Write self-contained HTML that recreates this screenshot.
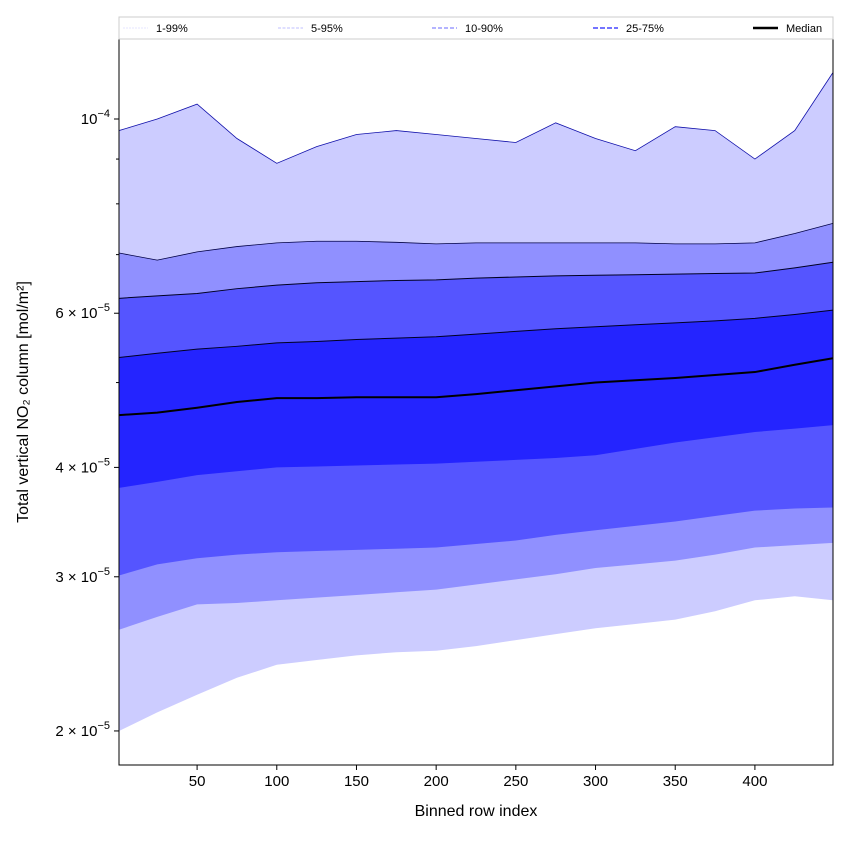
<!DOCTYPE html>
<html><head><meta charset="utf-8"><style>
body{margin:0;background:#fff;font-family:"Liberation Sans","DejaVu Sans",sans-serif}
</style></head><body>
<svg id="c" width="850" height="850" xmlns="http://www.w3.org/2000/svg"></svg>
<script>
const rows=[1,25,50,75,100,125,150,175,200,225,250,275,300,325,350,375,400,425,449];
const p99=[9.7,10.0,10.4,9.5,8.9,9.3,9.6,9.7,9.6,9.5,9.4,9.9,9.5,9.2,9.8,9.7,9.0,9.7,11.3];
const p01=[2.0,2.1,2.2,2.3,2.38,2.41,2.44,2.46,2.47,2.5,2.54,2.58,2.62,2.65,2.68,2.74,2.82,2.85,2.82];
const p95=[7.03,6.9,7.05,7.15,7.22,7.25,7.25,7.23,7.2,7.22,7.22,7.22,7.22,7.22,7.2,7.2,7.22,7.4,7.6];
const p05=[2.61,2.7,2.79,2.8,2.82,2.84,2.86,2.88,2.9,2.94,2.98,3.02,3.07,3.1,3.13,3.18,3.24,3.26,3.28];
const p90=[6.24,6.28,6.32,6.4,6.46,6.5,6.52,6.54,6.55,6.58,6.6,6.62,6.63,6.64,6.65,6.66,6.67,6.76,6.86];
const p10=[3.01,3.1,3.15,3.18,3.2,3.21,3.22,3.23,3.24,3.27,3.3,3.35,3.39,3.43,3.47,3.52,3.57,3.59,3.6];
const p75=[5.34,5.4,5.46,5.5,5.55,5.57,5.6,5.62,5.64,5.68,5.72,5.76,5.79,5.82,5.85,5.88,5.92,5.98,6.05];
const p25=[3.79,3.85,3.92,3.96,4.0,4.01,4.02,4.03,4.04,4.06,4.08,4.1,4.13,4.2,4.27,4.33,4.39,4.43,4.47];
const med=[4.59,4.62,4.68,4.75,4.8,4.8,4.81,4.81,4.81,4.85,4.9,4.95,5.0,5.03,5.06,5.1,5.14,5.24,5.33];
const xTicks=[50,100,150,200,250,300,350,400];
const yTicks=[10,6,4,3,2];
const yTickLabels=["10","6 × 10","4 × 10","3 × 10","2 × 10"];
const yExp=["−4","−5","−5","−5","−5"];
const L=119,R=833,T=39,B=765;
const X=v=>L+(v-1)/(449-1)*(R-L);
const Y=v=>119+875.5*(1-Math.log10(v));
const svg=document.getElementById('c');
const NS='http://www.w3.org/2000/svg';
function mk(tag,attrs,parent){const e=document.createElementNS(NS,tag);for(const k in attrs)e.setAttribute(k,attrs[k]);(parent||svg).appendChild(e);return e;}
const clip=mk('clipPath',{id:'cp'});mk('rect',{x:L,y:T,width:R-L,height:B-T},clip);
const g=mk('g',{'clip-path':'url(#cp)'});
function band(up,lo,fill,name){
 let d='M'+rows.map((r,i)=>X(r)+','+Y(up[i])).join('L');
 d+='L'+rows.slice().reverse().map((r,i)=>X(r)+','+Y(lo[lo.length-1-i])).join('L')+'Z';
 const p=mk('path',{d:d,fill:fill,stroke:'none'},g);
 
 
}
function line(v,stroke,w,name){
 const p=mk('path',{d:'M'+rows.map((r,i)=>X(r)+','+Y(v[i])).join('L'),fill:'none',stroke:stroke,'stroke-width':w},g);
 
 
}
band(p99,p01,'#ccccff','band-1-99');
band(p95,p05,'#9090ff','band-5-95');
band(p90,p10,'#5555ff','band-10-90');
band(p75,p25,'#2424ff','band-25-75');
line(p99,'#1010aa',0.8,'line-p99');
line(p95,'#000044',0.8,'line-p95');
line(p90,'#000022',1,'line-p90');
line(p75,'#000022',1,'line-p75');
line(med,'#000',2,'median-line');
mk('rect',{x:L,y:T,width:R-L,height:B-T,fill:'none',stroke:'#000','stroke-width':1});
xTicks.forEach(t=>{const x=X(t);
 mk('line',{x1:x,x2:x,y1:B,y2:B+5,stroke:'#000'});
 const tx=mk('text',{x:x,y:B+21,'text-anchor':'middle','font-size':15});tx.textContent=t;
 });
yTicks.forEach((t,i)=>{const y=Y(t);
 mk('line',{x1:L-5,x2:L,y1:y,y2:y,stroke:'#000'});
 const tx=mk('text',{x:L-9,y:y+5,'text-anchor':'end','font-size':15});
 tx.textContent=yTickLabels[i];
 const s=mk('tspan',{dy:-7,'font-size':11},tx);s.textContent=yExp[i];
 });
[9,8,7,5].forEach(t=>{const y=Y(t);mk('line',{x1:L-3,x2:L,y1:y,y2:y,stroke:'#000'});});
const xl=mk('text',{x:476,y:816,'text-anchor':'middle','font-size':16});xl.textContent='Binned row index';

const yl=mk('text',{x:28,y:402,'text-anchor':'middle','font-size':16,transform:'rotate(-90 28 402)'});yl.textContent='Total vertical NO₂ column [mol/m²]';

// legend
const lg=mk('g',{});
mk('rect',{x:119,y:17,width:714,height:22,fill:'#fff',stroke:'#ccc'},lg);
const legNames=['1-99%','5-95%','10-90%','25-75%','Median'];
const legX=[123,278,432,593,753];
const legC=['#ddddff','#aaaaff','#8888ff','#6060ff','#000'];
const legW=[0.8,0.8,1.2,1.8,2.5];
const legDash=['2,1','3,1.5','4,2','5,2','none'];
legNames.forEach((n,i)=>{
 mk('line',{x1:legX[i],x2:legX[i]+25,y1:28,y2:28,stroke:legC[i],'stroke-width':legW[i],'stroke-dasharray':legDash[i]},lg);
 const t=mk('text',{x:legX[i]+33,y:32,'font-size':11},lg);t.textContent=n;
 
});
</script>
</body></html>
